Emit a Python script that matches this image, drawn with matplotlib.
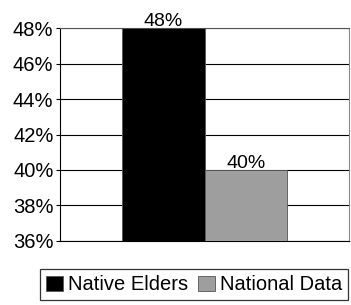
import numpy as np
from matplotlib import pyplot as plt

plt.rcParams['font.family'] = ['Liberation Sans', 'DejaVu Sans']

series = ['Native Elders', 'National Data']
values = [48, 40]
colors = ['#000000', '#9e9e9e']
yticks = [36, 38, 40, 42, 44, 46, 48]


def main():
    fig = plt.figure(figsize=(3.51, 3.05), dpi=100)
    ax = fig.add_axes([0.172, 0.21, 0.822, 0.698])

    xs = np.array([-0.5, 0.5])
    bars = ax.bar(xs, values, width=1.0, bottom=0, color=colors,
                  edgecolor='#555555', linewidth=0.6, zorder=3)

    for x, v in zip(xs, values):
        ax.text(x, v - 0.1, f'{v}%', ha='center', va='bottom', fontsize=14)

    ax.set_xlim(-1.755, 1.755)
    ax.set_ylim(36, 48)
    ax.set_yticks(yticks)
    ax.set_yticklabels([f'{t}%' for t in yticks], fontsize=14.5)
    ax.set_xticks([])
    ax.yaxis.grid(True, color='black', linewidth=0.8, zorder=0)
    ax.tick_params(axis='y', length=3, width=0.8, pad=2)
    for s in ax.spines.values():
        s.set_linewidth(0.8)
    ax.spines['right'].set_color('#888888')
    ax.spines['top'].set_color('#555555')

    leg = fig.legend(bars, series, loc='lower right', bbox_to_anchor=(1.0, 0.005),
                     ncol=2, fontsize=14.5, frameon=True, fancybox=False,
                     edgecolor='black', handlelength=0.85, handleheight=0.75,
                     handletextpad=0.25, columnspacing=0.45, borderpad=0.3,
                     borderaxespad=0.15)
    leg.get_frame().set_linewidth(0.9)

    fig.savefig('out.png', dpi=100)


if __name__ == '__main__':
    main()
